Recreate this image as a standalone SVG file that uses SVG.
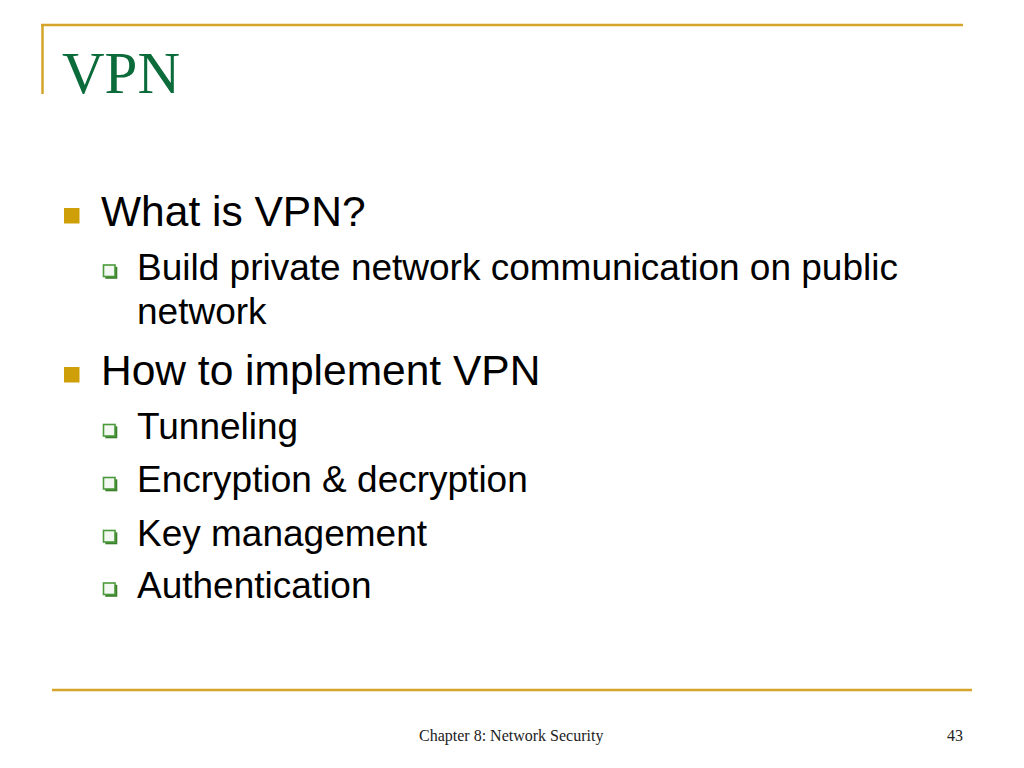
<svg xmlns="http://www.w3.org/2000/svg" width="1024" height="768" viewBox="0 0 1024 768">
<defs>
<style>
.rule{stroke:#D4A52A;stroke-width:2.5;fill:none}
.title{font-family:"Liberation Serif","Times New Roman",serif;font-size:59px;fill:#0B6B3A}
.l1{font-family:"Liberation Sans",Arial,sans-serif;font-size:42.5px;fill:#000}
.l2{font-family:"Liberation Sans",Arial,sans-serif;font-size:37px;fill:#000}
.foot{font-family:"Liberation Serif","Times New Roman",serif;font-size:16px;fill:#222}
.b1{fill:#CF9F0A}
.b2{fill:#F4F8F2;stroke:#4A9A3A;stroke-width:1.6}
.b2s{fill:#3E7F2E}
</style>
<g id="cb">
<rect class="b2s" x="1.8" y="1.8" width="12" height="12"/>
<rect class="b2" x="0" y="0" width="11.5" height="11.5"/>
</g>
</defs>
<rect width="1024" height="768" fill="#fff"/>
<g id="frame">
<line class="rule" x1="41" y1="25" x2="963" y2="25"/>
<line class="rule" x1="42.5" y1="24" x2="42.5" y2="94"/>
<line class="rule" x1="52" y1="690" x2="972" y2="690"/>
</g>
<text class="title" x="62" y="93">VPN</text>
<g id="bullets">
<rect class="b1" x="64" y="208" width="15.5" height="15.5"/>
<text class="l1" x="101" y="226">What is VPN?</text>
<use href="#cb" x="103.5" y="265"/>
<text class="l2" x="137" y="280">Build private network communication on public</text>
<text class="l2" x="137" y="324">network</text>
<rect class="b1" x="64" y="367" width="15.5" height="15.5"/>
<text class="l1" x="101" y="385">How to implement VPN</text>
<use href="#cb" x="103.5" y="424.5"/>
<text class="l2" x="137" y="439">Tunneling</text>
<use href="#cb" x="103.5" y="477.5"/>
<text class="l2" x="137" y="492">Encryption &amp; decryption</text>
<use href="#cb" x="103.5" y="530.5"/>
<text class="l2" x="137" y="545.5">Key management</text>
<use href="#cb" x="103.5" y="583"/>
<text class="l2" x="137" y="598">Authentication</text>
</g>
<text class="foot" x="419" y="741">Chapter 8: Network Security</text>
<text class="foot" x="963" y="741" text-anchor="end">43</text>
</svg>
